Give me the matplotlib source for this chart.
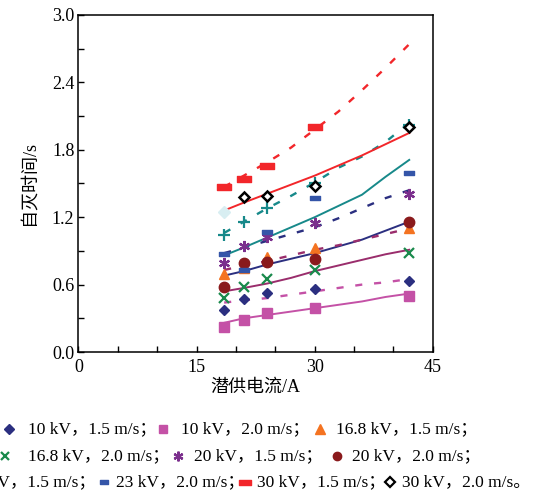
import numpy as np
import matplotlib.pyplot as plt
from matplotlib.path import Path

plt.rcParams['font.family'] = ['Liberation Serif', 'Noto Sans CJK SC']
plt.rcParams['axes.unicode_minus'] = False

# measured points (current A, self-extinction time s)
x_pts = [18.5, 21, 24, 30, 42]
t_10_15 = [0.375, 0.47, 0.525, 0.56, 0.63]
t_10_20 = [0.22, 0.285, 0.35, 0.39, 0.50]
t_168_15 = [0.69, 0.75, 0.85, 0.93, 1.10]
t_168_20 = [0.48, 0.58, 0.65, 0.73, 0.88]
t_20_15 = [0.79, 0.94, 1.02, 1.15, 1.41]
t_20_20 = [0.58, 0.79, 0.80, 0.83, 1.16]
t_23_15 = [1.04, 1.16, 1.28, 1.50, 2.02]
t_23_20 = [0.87, 0.73, 1.07, 1.37, 1.59]
x_30_15 = [18.5, 21, 24, 30]
t_30_15 = [1.47, 1.54, 1.66, 2.00]
t_30_20 = [1.25, 1.38, 1.39, 1.48, 2.00]

# fitted curves
x_fit = [18.5, 21, 24, 27, 30, 33, 36, 39, 42]
f_10_20 = [0.26, 0.30, 0.33, 0.36, 0.39, 0.42, 0.45, 0.49, 0.52]
f_10_15 = [0.44, 0.46, 0.48, 0.51, 0.54, 0.57, 0.60, 0.62, 0.65]
f_168_20 = [0.54, 0.57, 0.61, 0.66, 0.72, 0.77, 0.82, 0.87, 0.91]
f_20_20 = [0.68, 0.72, 0.78, 0.83, 0.88, 0.94, 1.00, 1.08, 1.16]
f_168_15 = [0.73, 0.77, 0.81, 0.86, 0.91, 0.95, 1.00, 1.05, 1.10]
f_20_15 = [0.88, 0.93, 0.99, 1.05, 1.11, 1.19, 1.28, 1.37, 1.44]
f_23_20 = [0.86, 0.93, 1.02, 1.11, 1.20, 1.30, 1.40, 1.56, 1.71]
f_23_15 = [1.06, 1.16, 1.28, 1.39, 1.51, 1.64, 1.74, 1.87, 2.04]
f_30_20 = [1.26, 1.33, 1.41, 1.49, 1.57, 1.66, 1.75, 1.85, 1.95]
f_30_15 = [1.47, 1.57, 1.69, 1.82, 1.98, 2.14, 2.33, 2.53, 2.74]

rect = Path([(-1, -0.45), (1, -0.45), (1, 0.45), (-1, 0.45), (-1, -0.45)],
            [Path.MOVETO, Path.LINETO, Path.LINETO, Path.LINETO, Path.CLOSEPOLY])

navy = '#2b2f80'
pink = '#c451a6'
maroon = '#9a2d6c'
teal = '#17898a'
red = '#f2262a'
dash = (0, (3, 5))

fig = plt.figure(figsize=(5.5, 4.93), dpi=100)
ax = fig.add_axes([0.1427, 0.286, 0.6443, 0.6836])

# fit lines
ax.plot(x_fit, f_10_20, color=pink, lw=1.4)
ax.plot(x_fit, f_10_15, color=pink, lw=1.7, ls=dash)
ax.plot(x_fit, f_168_20, color=maroon, lw=1.4)
ax.plot(x_fit, f_20_20, color=navy, lw=1.4)
ax.plot(x_fit, f_168_15, color=maroon, lw=1.7, ls=dash)
ax.plot(x_fit, f_20_15, color=navy, lw=1.7, ls=dash)
ax.plot(x_fit, f_23_20, color=teal, lw=1.4)
ax.plot(x_fit, f_23_15, color=teal, lw=1.7, ls=dash)
ax.plot(x_fit, f_30_20, color=red, lw=1.4)
ax.plot(x_fit, f_30_15, color=red, lw=1.7, ls=dash)

# markers
series = [
    (x_pts, t_10_15, dict(marker='D', color=navy, ms=5.5)),
    (x_pts, t_10_20, dict(marker='s', color=pink, ms=7)),
    (x_pts, t_168_15, dict(marker='^', color='#f47321', ms=7)),
    (x_pts, t_168_20, dict(marker='x', color='#1a8a4c', ms=7, mew=1.6)),
    (x_pts, t_20_15, dict(marker=(6, 2, 0), color='#7b2f8d', ms=8, mew=1.6)),
    (x_pts, t_20_20, dict(marker='o', color='#8a1a1c', ms=7.5)),
    (x_pts, t_23_15, dict(marker='+', color=teal, ms=8, mew=1.6)),
    (x_pts, t_23_20, dict(marker=rect, color='#3455a8', ms=7)),
    (x_30_15, t_30_15, dict(marker=rect, color=red, ms=10)),
]
for xs, ys, kw in series:
    ax.plot(xs, ys, ls='none', **kw)
ax.plot(x_pts[:1], t_30_20[:1], ls='none', marker='D', ms=6, mfc='#d8eef2', mec='#d8eef2')
ax.plot(x_pts[1:], t_30_20[1:], ls='none', marker='D', ms=5.5, mfc='white', mec='black', mew=1.8)

ax.set_xlim(0, 45)
ax.set_ylim(0, 3.0)
ax.set_xticks(np.arange(0, 46, 5))
ax.set_xticklabels(['0' if v == 0 else (str(v) if v % 15 == 0 else '') for v in range(0, 46, 5)])
ax.set_yticks(np.arange(0, 3.01, 0.3))
ax.set_yticklabels([f'{v:.1f}' if i % 2 == 0 else '' for i, v in enumerate(np.arange(0, 3.01, 0.3))])
ax.tick_params(direction='in', length=4, width=1, labelsize=13, pad=3)
ax.tick_params(axis='x', pad=5)
for s in ax.spines.values():
    s.set_linewidth(1.1)
ax.set_xlabel('潜供电流/A', fontsize=13, labelpad=2)
ax.set_ylabel('自灭时间/s', fontsize=13, labelpad=10)

# legend rows written as text under the plot
fs = 12.5
def leg(xm, xt, yp, label, **kw):
    y = 1 - yp / 493
    fig.add_artist(plt.Line2D([xm / 550], [y], transform=fig.transFigure, ls='none', **kw))
    fig.text(xt / 550, y, label, fontsize=fs, va='center', ha='left')

leg(9, 28, 429, '10 kV，1.5 m/s；', marker='D', color=navy, ms=5)
leg(163, 181, 429, '10 kV，2.0 m/s；', marker='s', color=pink, ms=6)
leg(320, 336, 429, '16.8 kV，1.5 m/s；', marker='^', color='#f47321', ms=7)
leg(5, 28, 456, '16.8 kV，2.0 m/s；', marker='x', color='#1a8a4c', ms=6, mew=1.6)
leg(178, 194, 456, '20 kV，1.5 m/s；', marker=(6, 2, 0), color='#7b2f8d', ms=7, mew=1.6)
leg(337, 352, 456, '20 kV，2.0 m/s；', marker='o', color='#8a1a1c', ms=6)
# first entry of the last row is cut off by the left edge in the original
fig.text(96 / 550, 1 - 482 / 493, '23 kV，1.5 m/s；', fontsize=fs, va='center', ha='right')
leg(104, 116, 482, '23 kV，2.0 m/s；', marker=rect, color='#3455a8', ms=6)
leg(245, 257, 482, '30 kV，1.5 m/s；', marker=rect, color=red, ms=8)
leg(390, 402, 482, '30 kV，2.0 m/s。', marker='D', mfc='white', mec='black', mew=1.6, ms=5)

fig.savefig('out.png', dpi=100)
